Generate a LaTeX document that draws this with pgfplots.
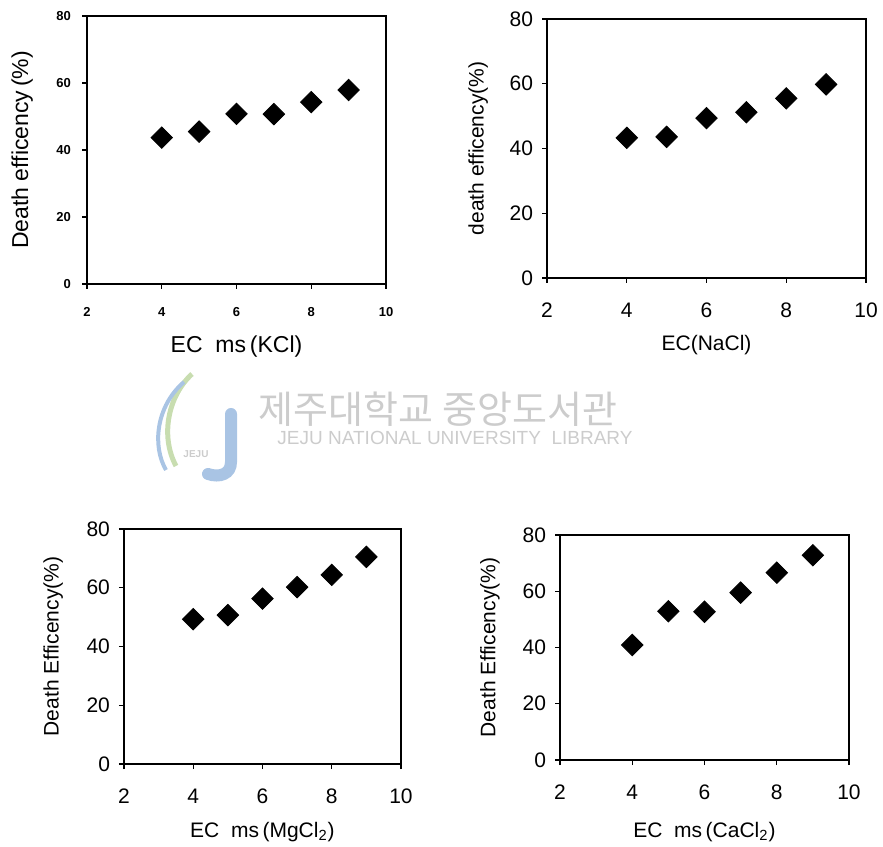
\documentclass[border=0pt]{standalone}
\usepackage{fontspec}
\setmainfont{Liberation Sans}
\newfontfamily\kr{Noto Sans CJK KR}
\usepackage{pgfplots}
\pgfplotsset{compat=1.18}

\definecolor{wmgray}{HTML}{CCCCCC}
\definecolor{wmblue}{HTML}{A9C4E4}
\definecolor{wmgreen}{HTML}{C8DDB0}

\pgfplotsset{
  panel/.style={
    scale only axis, anchor=south west,
    xmin=2, xmax=10, ymin=0, ymax=80,
    xtick={2,4,...,10}, ytick={0,20,...,80},
    axis line style={line width=0.9pt},
    tick align=outside, xtick pos=bottom, ytick pos=left,
    major tick length=2.5pt,
    tick style={black, line width=0.6pt},
    /pgf/number format/assume math mode=true,
    tick label style={font=\fontsize{10.5}{12}\selectfont},
    label style={font=\fontsize{10.5}{12}\selectfont},
    xticklabel style={anchor=center, yshift=-13.5pt},
    yticklabel style={anchor=east, xshift=-1pt},
  },
  pts/.style={only marks, mark=square*, mark size=3.8pt,
    mark options={rotate=45, fill=black, draw=black}},
}

\begin{document}
\begin{tikzpicture}
\useasboundingbox (0,0) rectangle (441.5pt,423pt);

% watermark
\draw[wmblue, line width=6pt, line cap=round] (115.5pt,216pt) -- (115.5pt,192pt)
  .. controls (115.5pt,186pt) and (110pt,184pt) .. (104pt,186pt);
\draw[wmgreen, line width=2.5pt] (96pt,236pt) .. controls (84pt,225pt) and (80pt,205pt) .. (88pt,190pt);
\draw[wmblue, line width=2pt] (92pt,232pt) .. controls (78pt,220pt) and (76pt,200pt) .. (83pt,188pt);
\node[wmgray, font=\fontsize{5}{6}\selectfont\bfseries] at (98pt,196pt) {JEJU};
\node[wmgray, anchor=base, inner sep=0pt, font=\kr\fontsize{19}{20}\selectfont] at (219pt,211pt) {제주대학교 중앙도서관};
\node[wmgray, anchor=base, inner sep=0pt, font=\fontsize{9.5}{11}\selectfont] at (227.5pt,200.5pt) {JEJU NATIONAL UNIVERSITY\ \ LIBRARY};

% KCl
\begin{axis}[panel, at={(43.5pt,281pt)}, width=149.5pt, height=134pt,
  tick label style={font=\fontsize{6.5}{8}\selectfont\bfseries},
  xticklabel style={yshift=2pt},
  yticklabel style={xshift=-1pt},
  label style={font=\fontsize{11.5}{13}\selectfont},
  xlabel={EC\ \ ms\,(KCl)}, ylabel={Death efficency\,(\%)},
  xlabel style={at={(axis description cs:0.5,-0.235)}, anchor=center},
  ylabel style={at={(axis description cs:-0.217,0.5)}, anchor=center}]
\addplot[pts] coordinates {(4,43.7) (5,45.5) (6,50.8) (7,50.7) (8,54.3) (9,57.9)};
\end{axis}

% NaCl
\begin{axis}[panel, at={(273.5pt,284pt)}, width=159.5pt, height=129.5pt,
  xlabel={EC(NaCl)}, ylabel={death efficency(\%)},
  xlabel style={at={(axis description cs:0.5,-0.259)}, anchor=center},
  ylabel style={at={(axis description cs:-0.216,0.5)}, anchor=center}]
\addplot[pts] coordinates {(4,43.3) (5,43.6) (6,49.4) (7,51.2) (8,55.5) (9,59.8)};
\end{axis}

% MgCl2
\begin{axis}[panel, at={(62pt,41pt)}, width=138.5pt, height=117.5pt,
  xlabel={EC\ \ ms\,(MgCl\textsubscript{2})}, ylabel={Death Efficency(\%)},
  xlabel style={at={(axis description cs:0.5,-0.289)}, anchor=center},
  ylabel style={at={(axis description cs:-0.256,0.5)}, anchor=center}]
\addplot[pts] coordinates {(4,49.3) (5,50.7) (6,56.3) (7,60.2) (8,64.4) (9,70.5)};
\end{axis}

% CaCl2
\begin{axis}[panel, at={(280pt,43pt)}, width=144.5pt, height=112.5pt,
  xlabel={EC\ \ ms\,(CaCl\textsubscript{2})}, ylabel={Death Efficency(\%)},
  xlabel style={at={(axis description cs:0.5,-0.32)}, anchor=center},
  ylabel style={at={(axis description cs:-0.242,0.5)}, anchor=center}]
\addplot[pts] coordinates {(4,40.9) (5,52.9) (6,52.7) (7,59.5) (8,66.6) (9,72.8)};
\end{axis}
\end{tikzpicture}
\end{document}
